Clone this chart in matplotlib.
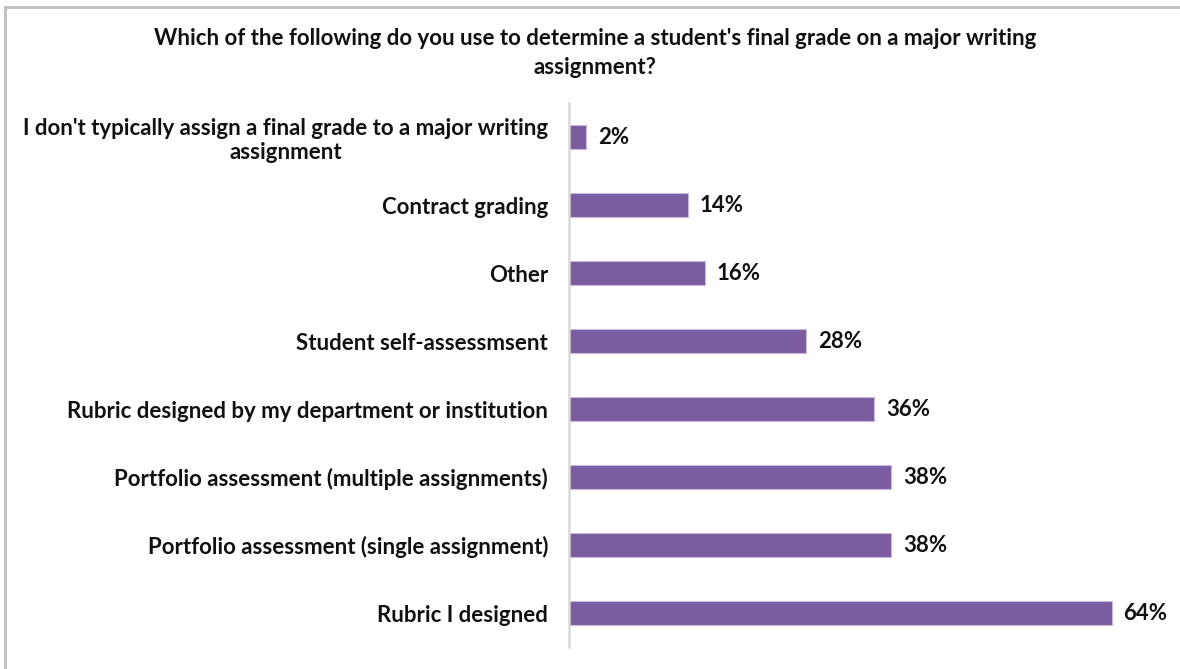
import matplotlib.pyplot as plt
from matplotlib.lines import Line2D

plt.rcParams['font.family'] = ['Lato', 'DejaVu Sans']

categories = [
    "I don't typically assign a final grade to a major writing\nassignment",
    "Contract grading",
    "Other",
    "Student self-assessmsent",
    "Rubric designed by my department or institution",
    "Portfolio assessment (multiple assignments)",
    "Portfolio assessment (single assignment)",
    "Rubric I designed",
]
values = [2, 14, 16, 28, 36, 38, 38, 64]
title = ("Which of the following do you use to determine a student's final grade on a major writing\n"
         "assignment?")

bar_color = '#7B5CA0'
fs = 16

fig = plt.figure(figsize=(11.8, 6.69), dpi=100)
ax = fig.add_axes([569 / 1180, 22 / 669, 593.6 / 1180, 544 / 669])

pos = list(range(len(categories)))
ax.barh(pos, values, height=0.36, color=bar_color, edgecolor='#C7B8DC', linewidth=0.8)
ax.set_xlim(0, 70)
ax.set_ylim(len(categories) - 0.5, -0.5)

for p, v in zip(pos, values):
    ax.text(v + 1.4, p, f"{v}%", va='center', ha='left', fontsize=fs,
            fontweight='bold', color='#111111')

ax.set_yticks(pos)
ax.set_yticklabels(categories, fontsize=fs, fontweight='bold', color='#111111',
                   ha='right', multialignment='center', linespacing=1.2)
ax.tick_params(axis='y', length=0, pad=15)
ax.set_xticks([])
for side in ['top', 'right', 'bottom']:
    ax.spines[side].set_visible(False)
ax.spines['left'].set_color('#D9D9D9')
ax.spines['left'].set_linewidth(1.8)

fig.text(595 / 1180, 1 - 53 / 669, title, ha='center', va='center', fontsize=fs,
         fontweight='bold', color='#111111', linespacing=1.5)

# outer frame (top and left edges)
fig.add_artist(Line2D([5 / 1180, 1], [1 - 7 / 669, 1 - 7 / 669], color='#BFBFBF', lw=2,
                      transform=fig.transFigure))
fig.add_artist(Line2D([5 / 1180, 5 / 1180], [0, 1 - 7 / 669], color='#BFBFBF', lw=2,
                      transform=fig.transFigure))

fig.savefig('out.png', dpi=100)
